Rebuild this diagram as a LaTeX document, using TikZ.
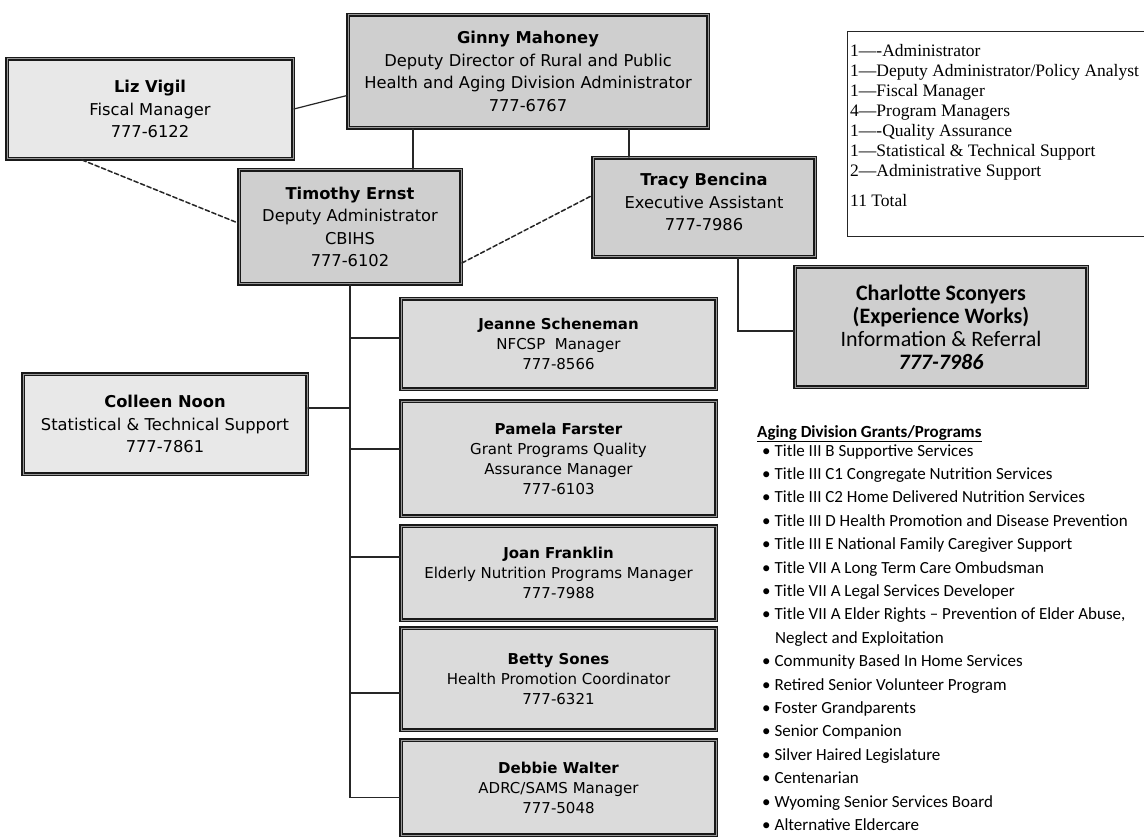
\documentclass[tikz,border=0pt]{standalone}
\usepackage{fontspec}
\setmainfont{DejaVu Sans}
\newfontfamily\calfont{Carlito}
\newfontfamily\legfont{Liberation Serif}
\begin{document}
\begin{tikzpicture}
    [x=1pt,y=-1pt,line cap=round,
    % Styles
    person/.style={draw=black!90,line width=1.9pt,double=black!40,double distance=1pt,
      fill=black!19,align=center,inner sep=2pt,font=\fontsize{16.3}{22.5}\selectfont},
    light person/.style={person,fill=black!9},
    staff/.style={person,fill=black!14,minimum width=315pt,font=\fontsize{15}{20}\selectfont},
    tie/.style={draw=black!85,line width=1.2pt},
    dashed tie/.style={tie,line width=1.5pt,dash pattern=on 4.5pt off 2.5pt},
    tally box/.style={draw=black!85,line width=0.9pt,anchor=north west,inner sep=0pt},
    tally text/.style={anchor=base west,inner sep=0pt,font=\legfont\fontsize{17.5}{20}\selectfont},
    list text/.style={anchor=base west,inner sep=0pt,font=\calfont\fontsize{17}{20}\selectfont}]
    \useasboundingbox[fill=white] (0,0) rectangle (1144,837);
    % Top of the chart
    \node[person,minimum width=360pt,minimum height=113pt] (ginny) at (528,71.5)
      {\textbf{Ginny Mahoney}\\Deputy Director of Rural and Public\\Health and Aging Division Administrator\\777-6767};
    \node[light person,minimum width=286pt,minimum height=100pt] (liz) at (150,109)
      {\textbf{Liz Vigil}\\Fiscal Manager\\777-6122};
    \node[person,minimum width=222pt,minimum height=114pt] (timothy) at (350,227)
      {\textbf{Timothy Ernst}\\Deputy Administrator\\CBIHS\\777-6102};
    \node[person,minimum width=222pt,minimum height=99pt] (tracy) at (704,207.5)
      {\textbf{Tracy Bencina}\\Executive Assistant\\777-7986\\[-12pt]};
    \node[person,minimum width=292pt,minimum height=120pt,font=\calfont\fontsize{22}{23}\selectfont] (charlotte) at (941,327)
      {\textbf{Charlotte Sconyers}\\\textbf{(Experience Works)}\\Information \& Referral\\\textbf{\itshape 777-7986}};
    \node[light person,minimum width=284pt,minimum height=100pt] (colleen) at (165,424)
      {\textbf{Colleen Noon}\\Statistical \& Technical Support\\777-7861};
    % Program staff
    \node[staff,minimum height=90pt] (jeanne) at (558.5,344)
      {\textbf{Jeanne Scheneman}\\NFCSP~ Manager\\777-8566};
    \node[staff,minimum height=115pt] (pamela) at (558.5,458.5)
      {\textbf{Pamela Farster}\\Grant Programs Quality\\Assurance Manager\\777-6103};
    \node[staff,minimum height=94pt] (joan) at (558.5,573)
      {\textbf{Joan Franklin}\\Elderly Nutrition Programs Manager\\777-7988};
    \node[staff,minimum height=102pt] (betty) at (558.5,679)
      {\textbf{Betty Sones}\\Health Promotion Coordinator\\777-6321};
    \node[staff,minimum height=95pt] (debbie) at (558.5,787.5)
      {\textbf{Debbie Walter}\\ADRC/SAMS Manager\\777-5048};
    % Lines
    \coordinate (t top) at ([xshift=63pt]timothy.north);
    \coordinate (tb top) at ([xshift=-75pt]tracy.north);
    \coordinate (tb foot) at ([xshift=34pt]tracy.south);
    \coordinate (cn) at ([yshift=16pt]colleen.east);
    \draw[tie] (liz.east) -- ([yshift=-24pt]ginny.west);
    \draw[tie] (t top) -- (t top |- ginny.south);
    \draw[tie] (tb top) -- (tb top |- ginny.south);
    \draw[tie] (tb foot) |- ([yshift=-4pt]charlotte.west);
    \draw[dashed tie] ([xshift=-68pt]liz.south) -- ([yshift=4pt]timothy.west);
    \draw[dashed tie] ([yshift=-36pt]timothy.east) -- ([yshift=12pt]tracy.west);
    \foreach \n/\dy in {jeanne/6,pamela/9.5,joan/16,betty/-14,debbie/-10}
      \draw[tie] ([yshift=\dy pt]\n.west) -| (timothy.south);
    \draw[tie] (cn) -- (cn -| timothy.south);
    % Staff count
    \node[tally box,minimum width=303pt,minimum height=205pt] (tally) at (847,31) {};
    \foreach \l [count=\i from 0] in {1—-Administrator,1—Deputy Administrator/Policy Analyst,
      1—Fiscal Manager,4—Program Managers,1—-Quality Assurance,
      1—Statistical \& Technical Support,2—Administrative Support}
      \node[tally text] (tally\i) at (850,{57+20*\i}) {\l};
    \node[tally text] (total) at (850,207) {11 Total};
    % Grants and programs
    \node[list text] (grants) at (757,437) {\textbf{\underline{Aging Division Grants/Programs}}};
    \foreach \t/\k in {Title III B Supportive Services/0,Title III C1 Congregate Nutrition Services/1,
      Title III C2 Home Delivered Nutrition Services/2,Title III D Health Promotion and Disease Prevention/3,
      Title III E National Family Caregiver Support/4,Title VII A Long Term Care Ombudsman/5,
      Title VII A Legal Services Developer/6,{Title VII A Elder Rights – Prevention of Elder Abuse,}/7,
      Community Based In Home Services/9,Retired Senior Volunteer Program/10,Foster Grandparents/11,
      Senior Companion/12,Silver Haired Legislature/13,Centenarian/14,
      Wyoming Senior Services Board/15,Alternative Eldercare/16}
      \node[list text] (prog\k) at (762,{456+23.4*\k}) {\textbullet\hspace{4pt}\t};
    \node[list text] (prog8) at (775,{456+23.4*8}) {Neglect and Exploitation};
\end{tikzpicture}
\end{document}
